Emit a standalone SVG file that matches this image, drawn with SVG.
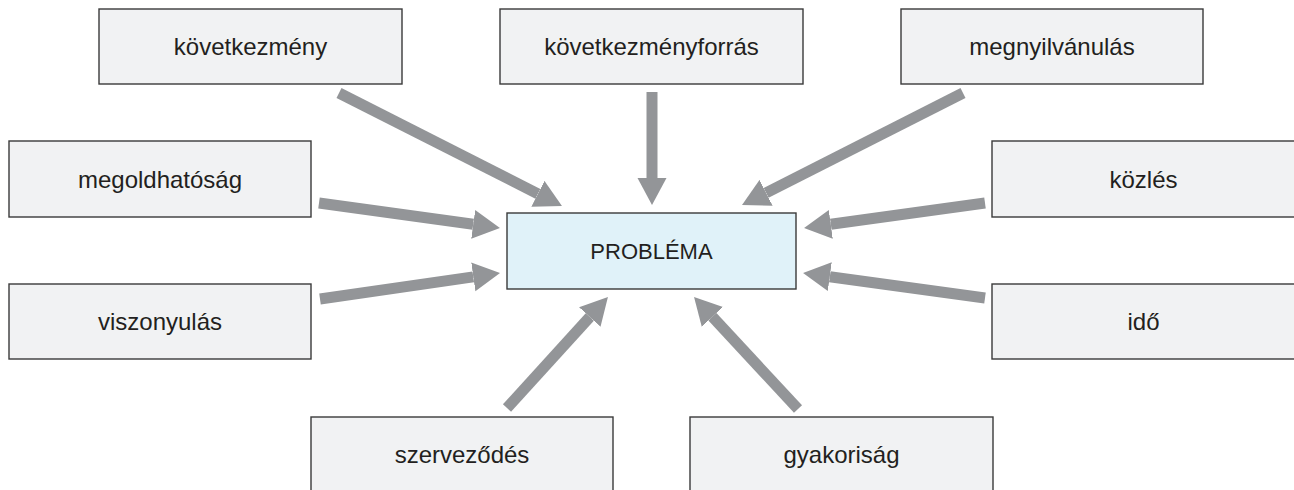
<svg xmlns="http://www.w3.org/2000/svg" width="1294" height="490" viewBox="0 0 1294 490">
  <defs>
    <style>
      .box { fill: #f1f2f3; stroke: #3a3a3a; stroke-width: 1.4; }
      .center { fill: #e0f2f9; stroke: #3a3a3a; stroke-width: 1.4; }
      .lbl { font-family: "Liberation Sans", Arial, sans-serif; font-size: 24px; fill: #231f20; text-anchor: middle; }
      .clbl { font-family: "Liberation Sans", Arial, sans-serif; font-size: 22px; fill: #231f20; text-anchor: middle; }
      .arr { fill: none; stroke: #939598; stroke-width: 11; stroke-linecap: butt; marker-end: url(#head); }
    </style>
    <marker id="head" markerUnits="userSpaceOnUse" markerWidth="28" markerHeight="30" viewBox="0 0 28 30" refX="0" refY="15" orient="auto">
      <path d="M0,0.5 L27,15 L0,29.5 Z" fill="#939598"/>
    </marker>
  </defs>
  <rect width="1294" height="490" fill="#ffffff"/>

  <g id="connectors">
    <path class="arr" d="M339,93 L537.9,193.8"/>
    <path class="arr" d="M652,92 L652,178"/>
    <path class="arr" d="M963,93 L766.1,192.8"/>
    <path class="arr" d="M319,203 L473.2,224.3"/>
    <path class="arr" d="M320,299 L473.3,276.9"/>
    <path class="arr" d="M985,203 L830.8,224.3"/>
    <path class="arr" d="M985,298 L829.8,276.7"/>
    <path class="arr" d="M507,408 L589.8,317"/>
    <path class="arr" d="M798,409 L712.4,316.8"/>
  </g>

  <g id="node-kovetkezmeny">
    <rect class="box" x="99" y="9" width="303" height="75"/>
    <text class="lbl" x="250.5" y="54.5">következmény</text>
  </g>
  <g id="node-kovetkezmenyforras">
    <rect class="box" x="500" y="9" width="303" height="75"/>
    <text class="lbl" x="651.5" y="54.5">következményforrás</text>
  </g>
  <g id="node-megnyilvanulas">
    <rect class="box" x="901" y="9" width="302" height="75"/>
    <text class="lbl" x="1052" y="54.5">megnyilvánulás</text>
  </g>
  <g id="node-megoldhatosag">
    <rect class="box" x="9" y="141" width="302" height="76"/>
    <text class="lbl" x="160" y="187.5">megoldhatóság</text>
  </g>
  <g id="node-viszonyulas">
    <rect class="box" x="9" y="284" width="302" height="75"/>
    <text class="lbl" x="160" y="330">viszonyulás</text>
  </g>
  <g id="node-kozles">
    <rect class="box" x="992" y="141" width="303" height="76"/>
    <text class="lbl" x="1143.5" y="187.5">közlés</text>
  </g>
  <g id="node-ido">
    <rect class="box" x="992" y="284" width="303" height="75"/>
    <text class="lbl" x="1143.5" y="330">idő</text>
  </g>
  <g id="node-szervezodes">
    <rect class="box" x="311" y="417" width="302" height="76"/>
    <text class="lbl" x="462" y="463">szerveződés</text>
  </g>
  <g id="node-gyakorisag">
    <rect class="box" x="690" y="417" width="303" height="76"/>
    <text class="lbl" x="841.5" y="463">gyakoriság</text>
  </g>
  <g id="node-problema">
    <rect class="center" x="507" y="213" width="289" height="76"/>
    <text class="clbl" x="651.5" y="259">PROBLÉMA</text>
  </g>
</svg>
